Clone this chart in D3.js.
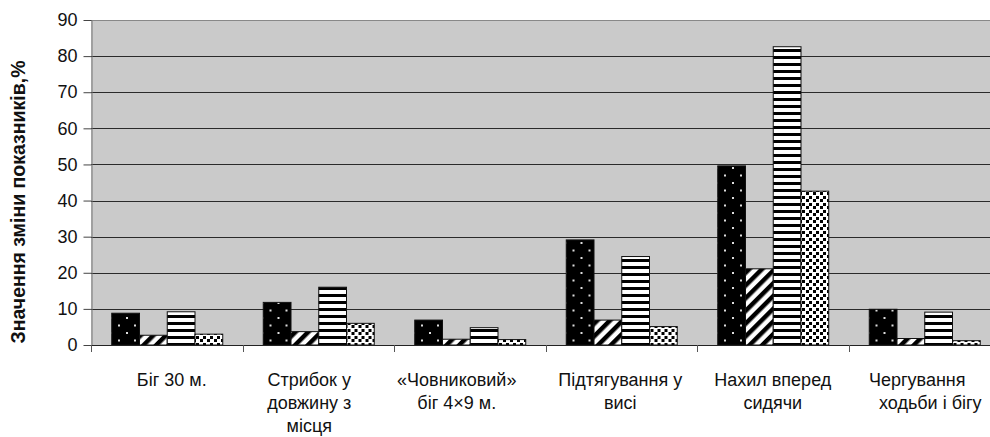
<!DOCTYPE html>
<html><head><meta charset="utf-8">
<script src="https://cdn.jsdelivr.net/npm/d3@7"></script>
<style>html,body{margin:0;padding:0;background:#fff;}svg{display:block;}</style>
</head><body>
<svg id="chart" width="990" height="437"></svg>
<script>
// ---- data ----
const categories = ["Біг 30 м.", "Стрибок у довжину з місця", "«Човниковий» біг 4×9 м.", "Підтягування у висі", "Нахил вперед сидячи", "Чергування ходьби і бігу"];
const categoryLines = [["Біг 30 м."], ["Стрибок у", "довжину з", "місця"], ["«Човниковий»", "біг 4×9 м."], ["Підтягування у", "висі"], ["Нахил вперед", "сидячи"], ["Чергування", "ходьби і бігу"]];
const series1 = [8.8, 11.8, 6.9, 29.1, 49.6, 9.9];
const series2 = [2.7, 3.7, 1.6, 6.9, 21.1, 1.8];
const series3 = [9.2, 16.0, 4.8, 24.5, 82.6, 9.1];
const series4 = [3.0, 6.0, 1.5, 5.1, 42.6, 1.2];
const yTicks = [0, 10, 20, 30, 40, 50, 60, 70, 80, 90];
const yTitle = "Значення зміни показників,%";

// ---- layout ----
const L = 91, R = 1000, T = 20, B = 345;
const svg = d3.select("#chart");
const allSeries = [series1, series2, series3, series4];
const patIds = ["p1", "p2", "p3", "p4"];

const defs = svg.append("defs");
// series 1: black with white dots
const p1 = defs.append("pattern").attr("id", "p1").attr("patternUnits", "userSpaceOnUse").attr("width", 16).attr("height", 15);
p1.append("rect").attr("width", 16).attr("height", 15).attr("fill", "#000");
[[4, 3], [12, 10.5]].forEach(([cx, cy]) => p1.append("rect").attr("x", cx - 1).attr("y", cy - 1).attr("width", 2).attr("height", 2).attr("fill", "#ddd"));
// series 2: diagonal stripes
const p2 = defs.append("pattern").attr("id", "p2").attr("patternUnits", "userSpaceOnUse").attr("width", 9).attr("height", 9).attr("patternTransform", "rotate(45)");
p2.append("rect").attr("width", 9).attr("height", 9).attr("fill", "#fff");
p2.append("rect").attr("width", 4.5).attr("height", 9).attr("fill", "#000");
// series 3: horizontal stripes
const p3 = defs.append("pattern").attr("id", "p3").attr("patternUnits", "userSpaceOnUse").attr("width", 8).attr("height", 7);
p3.append("rect").attr("width", 8).attr("height", 7).attr("fill", "#fff");
p3.append("rect").attr("width", 8).attr("height", 3).attr("fill", "#000");
// series 4: checker squares
const p4 = defs.append("pattern").attr("id", "p4").attr("patternUnits", "userSpaceOnUse").attr("width", 7).attr("height", 7);
p4.append("rect").attr("width", 7).attr("height", 7).attr("fill", "#fff");
[[0, 0], [4, 3]].forEach(([x, y]) => p4.append("rect").attr("x", x).attr("y", y).attr("width", 3).attr("height", 3).attr("fill", "#000"));

const x0 = d3.scaleBand().domain(d3.range(categories.length)).range([L, R]).paddingInner(0).paddingOuter(0);
const x1 = d3.scaleBand().domain(d3.range(allSeries.length)).range([0, x0.bandwidth()]).paddingInner(0).paddingOuter(0.73);
const y = d3.scaleLinear().domain([0, 90]).range([B, T]);

// plot background
svg.append("rect").attr("x", L).attr("y", T).attr("width", R - L).attr("height", B - T).attr("fill", "#cacaca");
// gridlines
svg.append("g").selectAll("line").data(yTicks.filter(t => t > 0 && t < 90)).join("line")
  .attr("x1", L).attr("x2", R).attr("y1", d => Math.round(y(d)) + 0.5).attr("y2", d => Math.round(y(d)) + 0.5)
  .attr("stroke", "#2a2a2a").attr("stroke-width", 1);
// top border
svg.append("line").attr("x1", L).attr("x2", R).attr("y1", T + 0.5).attr("y2", T + 0.5).attr("stroke", "#888");

// bars
const groups = svg.append("g").selectAll("g").data(categories.map((c, i) => i)).join("g")
  .attr("transform", i => `translate(${x0(i)},0)`);
groups.selectAll("rect").data(i => allSeries.map((s, k) => ({k, v: s[i]}))).join("rect")
  .attr("x", d => x1(d.k) + 0.5).attr("y", d => y(d.v)).attr("width", x1.bandwidth()).attr("height", d => B - y(d.v))
  .attr("fill", d => `url(#${patIds[d.k]})`).attr("stroke", "#111").attr("stroke-width", 1);

// y axis
const yAxis = d3.axisLeft(y).tickValues(yTicks).tickSize(8).tickPadding(6).tickSizeOuter(0);
const gy = svg.append("g").attr("transform", `translate(${L + 0.5},0)`).call(yAxis);
gy.select(".domain").attr("stroke", "#777");
gy.selectAll(".tick line").attr("stroke", "#444");
gy.selectAll(".tick text").attr("font-family", "'Liberation Sans', Arial, sans-serif").attr("font-size", 18).attr("fill", "#111");

// x axis
const boundaries = d3.range(categories.length + 1).map(i => L + i * x0.step());
svg.append("line").attr("x1", L).attr("x2", R).attr("y1", B + 0.5).attr("y2", B + 0.5).attr("stroke", "#222");
svg.append("g").selectAll("line").data(boundaries).join("line")
  .attr("x1", d => Math.round(d) + 0.5).attr("x2", d => Math.round(d) + 0.5).attr("y1", B).attr("y2", B + 7).attr("stroke", "#555");

const labelOffsets = [[5], [-9, -9, -9], [-13, -13], [-1, -1], [0, 0], [-7, 6]];
const xl = svg.append("g").attr("font-family", "'Liberation Sans Narrow', 'Arial Narrow', 'Liberation Sans', sans-serif")
  .attr("font-size", 18).attr("fill", "#111").attr("text-anchor", "middle");
categoryLines.forEach((lines, i) => {
  lines.forEach((ln, j) => {
    xl.append("text").attr("x", x0(i) + x0.bandwidth() / 2 + labelOffsets[i][j]).attr("y", 386 + j * 23).text(ln);
  });
});

// y title
svg.append("text").attr("transform", `translate(25,${202}) rotate(-90)`).attr("text-anchor", "middle")
  .attr("font-family", "'Liberation Sans', Arial, sans-serif").attr("font-weight", "bold").attr("font-size", 19.5).attr("fill", "#111")
  .text(yTitle);
</script>
</body></html>
